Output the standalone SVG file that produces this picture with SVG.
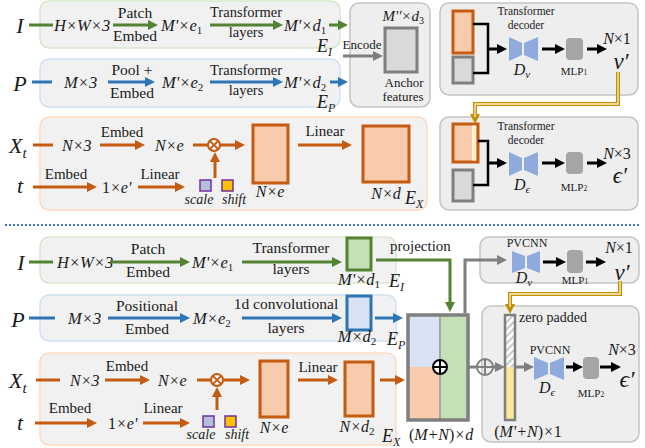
<svg xmlns="http://www.w3.org/2000/svg" width="645" height="448" viewBox="0 0 645 448">
<defs>
<style>
.t{font-family:"Liberation Serif","Times New Roman",serif;fill:#1a1a1a}
.i{font-style:italic}
.gk{font-family:"Liberation Serif","DejaVu Serif",serif}
.pnl{fill:#f1f1f1;stroke-width:1.5}
.pg{stroke:#d6e8cb}.pb{stroke:#cfe2f3}.po{stroke:#fbdac4}.pk{fill:#eeeeee;stroke:#c4c4c4}
.ag{stroke:#548235;stroke-width:3;fill:none;marker-end:url(#mg)}
.ab{stroke:#2e75b6;stroke-width:3;fill:none;marker-end:url(#mb)}
.ao{stroke:#c55a11;stroke-width:3;fill:none;marker-end:url(#mo)}
.ak{stroke:#000;stroke-width:3;fill:none;marker-end:url(#mk)}
.ay{stroke:#7f7f7f;stroke-width:3;fill:none;marker-end:url(#my)}
.lg{stroke:#548235;stroke-width:3;fill:none}
.lb{stroke:#2e75b6;stroke-width:3;fill:none}
.lo{stroke:#c55a11;stroke-width:3;fill:none}
.ly{stroke:#7f7f7f;stroke-width:3;fill:none}
.ob{fill:#f8cbad;stroke:#c55a11;stroke-width:3}
.gb{fill:#d9d9d9;stroke:#7f7f7f;stroke-width:3}
.dec{fill:#8faadc}
.mlp{fill:#a5a5a5}
.sc{fill:#b4bfdc;stroke:#7030a0;stroke-width:1.5}
.sh{fill:#ffc000;stroke:#7030a0;stroke-width:1.5}
.gold{stroke:#bf9000;stroke-width:4;fill:none}
.goldi{stroke:#fff2cc;stroke-width:1.3;fill:none}
</style>
<marker id="mg" viewBox="0 0 10 10" refX="4" refY="5" markerWidth="10" markerHeight="10" markerUnits="userSpaceOnUse" orient="auto"><path d="M0,0L10,5L0,10z" fill="#548235"/></marker>
<marker id="mb" viewBox="0 0 10 10" refX="4" refY="5" markerWidth="10" markerHeight="10" markerUnits="userSpaceOnUse" orient="auto"><path d="M0,0L10,5L0,10z" fill="#2e75b6"/></marker>
<marker id="mo" viewBox="0 0 10 10" refX="4" refY="5" markerWidth="10" markerHeight="10" markerUnits="userSpaceOnUse" orient="auto"><path d="M0,0L10,5L0,10z" fill="#c55a11"/></marker>
<marker id="mk" viewBox="0 0 10 10" refX="4" refY="5" markerWidth="10" markerHeight="10" markerUnits="userSpaceOnUse" orient="auto"><path d="M0,0L10,5L0,10z" fill="#000"/></marker>
<marker id="my" viewBox="0 0 10 10" refX="4" refY="5" markerWidth="10" markerHeight="10" markerUnits="userSpaceOnUse" orient="auto"><path d="M0,0L10,5L0,10z" fill="#7f7f7f"/></marker>
<marker id="mgold" viewBox="0 0 10 10" refX="4" refY="5" markerWidth="10" markerHeight="10" markerUnits="userSpaceOnUse" orient="auto"><path d="M0,0L10,5L0,10z" fill="#bf9000"/></marker>
<pattern id="hatch" width="5" height="5" patternUnits="userSpaceOnUse" patternTransform="rotate(45)"><rect width="5" height="5" fill="#ffffff"/><rect width="2" height="5" fill="#c8c8c8"/></pattern>
</defs>
<rect width="645" height="448" fill="#ffffff"/>

<!-- ===== TOP SECTION ===== -->
<g id="panel-EI-top">
<rect class="pnl pg" x="40" y="1" width="300" height="47" rx="9"/>
<text class="t i" x="20" y="33" font-size="22" text-anchor="middle">I</text>
<text class="t i" x="54" y="31" font-size="16.5">H×W×3</text>
<text class="t" x="135" y="18" font-size="15.5" text-anchor="middle">Patch</text>
<text class="t" x="135" y="41" font-size="15.5" text-anchor="middle">Embed</text>
<text class="t i" x="161" y="31" font-size="16.5">M'×e<tspan font-size="11" dy="3" font-style="normal">1</tspan></text>
<text class="t" x="246" y="17" font-size="14.5" text-anchor="middle">Transformer</text>
<text class="t" x="246" y="37" font-size="14.5" text-anchor="middle">layers</text>
<text class="t i" x="284" y="31" font-size="16.5">M'×d<tspan font-size="11" dy="3" font-style="normal">1</tspan></text>
<text class="t i" x="317" y="52" font-size="18">E<tspan font-size="12" dy="4">I</tspan></text>
</g>
<g id="panel-EP-top">
<rect class="pnl pb" x="40" y="59" width="300" height="48" rx="9"/>
<text class="t i" x="20" y="91" font-size="22" text-anchor="middle">P</text>
<text class="t i" x="64" y="88" font-size="16.5">M×3</text>
<text class="t" x="132" y="75" font-size="15.5" text-anchor="middle">Pool +</text>
<text class="t" x="132" y="98" font-size="15.5" text-anchor="middle">Embed</text>
<text class="t i" x="162" y="88" font-size="16.5">M'×e<tspan font-size="11" dy="3" font-style="normal">2</tspan></text>
<text class="t" x="246" y="75" font-size="14.5" text-anchor="middle">Transformer</text>
<text class="t" x="246" y="95" font-size="14.5" text-anchor="middle">layers</text>
<text class="t i" x="284" y="88" font-size="16.5">M'×d<tspan font-size="11" dy="3" font-style="normal">2</tspan></text>
<text class="t i" x="317" y="108" font-size="18">E<tspan font-size="12" dy="4">P</tspan></text>
</g>
<g id="anchor-top">
<rect class="pnl pk" x="350" y="3" width="80" height="104" rx="9"/>
<text class="t i" x="424" y="21" font-size="15" text-anchor="end">M''×d<tspan font-size="10" dy="3" font-style="normal">3</tspan></text>
<rect class="gb" x="385" y="28" width="32" height="44"/>
<text class="t" x="362" y="49" font-size="13" text-anchor="middle">Encode</text>
<text class="t" x="404" y="87" font-size="13" text-anchor="middle">Anchor</text>
<text class="t" x="403" y="101" font-size="13" text-anchor="middle">features</text>
</g>
<g id="panel-EX-top">
<rect class="pnl po" x="40" y="117" width="387" height="93" rx="9"/>
<text class="t i" x="9" y="153" font-size="22">X<tspan font-size="15" dy="5">t</tspan></text>
<text class="t i" x="62" y="151" font-size="16">N×3</text>
<text class="t" x="122" y="137" font-size="15" text-anchor="middle">Embed</text>
<text class="t i" x="155" y="151" font-size="16">N×e</text>
<text class="t i" x="20" y="193" font-size="22" text-anchor="middle">t</text>
<text class="t" x="66" y="179" font-size="15" text-anchor="middle">Embed</text>
<text class="t i" x="102" y="193" font-size="16"><tspan font-style="normal">1</tspan>×e'</text>
<text class="t" x="160" y="179" font-size="15" text-anchor="middle">Linear</text>
<rect class="sc" x="200" y="180" width="11" height="11"/>
<text class="t i" x="199" y="204" font-size="14" text-anchor="middle">scale</text>
<rect class="sh" x="222" y="180" width="11" height="11"/>
<text class="t i" x="234" y="204" font-size="14" text-anchor="middle">shift</text>
<rect class="ob" x="253" y="125" width="35" height="58"/>
<text class="t i" x="270" y="197" font-size="16" text-anchor="middle">N×e</text>
<text class="t" x="325" y="136" font-size="15" text-anchor="middle">Linear</text>
<rect class="ob" x="363" y="126" width="46" height="56"/>
<text class="t i" x="386" y="199" font-size="16" text-anchor="middle">N×d</text>
<text class="t i" x="405" y="204" font-size="18">E<tspan font-size="12" dy="4">X</tspan></text>
<circle cx="214" cy="145" r="6" fill="none" stroke="#c55a11" stroke-width="2"/>
<path d="M209.8 140.8L218.2 149.2M218.2 140.8L209.8 149.2" stroke="#c55a11" stroke-width="1.8"/>
</g>
<g id="decoder-v-top">
<rect class="pnl pk" x="440" y="3" width="198" height="92" rx="9"/>
<rect class="ob" x="453" y="11" width="20" height="42"/>
<rect class="gb" x="453" y="57" width="20" height="26"/>
<text class="t" x="526" y="15" font-size="11.5" text-anchor="middle">Transformer</text>
<text class="t" x="526" y="28.5" font-size="11.5" text-anchor="middle">decoder</text>
<polygon class="dec" points="509,37 522,43 522,55 509,61"/>
<polygon class="dec" points="524,43 538,37 538,61 524,55"/>
<text class="t i" x="522" y="75" font-size="16" text-anchor="middle">D<tspan font-size="11" dy="3">ν</tspan></text>
<rect class="mlp" x="566" y="38" width="17" height="22" rx="4"/>
<text class="t" x="574" y="75" font-size="11" text-anchor="middle">MLP<tspan font-size="7.5">1</tspan></text>
<text class="t i" x="617" y="44" font-size="16" text-anchor="middle">N<tspan font-style="normal">×1</tspan></text>
<text class="t i" x="621" y="69" font-size="23" text-anchor="middle">ν′</text>
</g>
<g id="decoder-e-top">
<rect class="pnl pk" x="440" y="117" width="198" height="93" rx="9"/>
<rect class="ob" x="453" y="124" width="25" height="38"/>
<rect x="472" y="125.5" width="4" height="35" fill="#fff2cc"/>
<rect class="gb" x="453" y="170" width="20" height="31"/>
<text class="t" x="526" y="130" font-size="11.5" text-anchor="middle">Transformer</text>
<text class="t" x="526" y="143.5" font-size="11.5" text-anchor="middle">decoder</text>
<polygon class="dec" points="509,152 522,158 522,170 509,176"/>
<polygon class="dec" points="524,158 538,152 538,176 524,170"/>
<text class="t gk i" x="522" y="190" font-size="16" text-anchor="middle">D<tspan font-size="11" dy="3">ϵ</tspan></text>
<rect class="mlp" x="566" y="152" width="17" height="22" rx="4"/>
<text class="t" x="574" y="191" font-size="11" text-anchor="middle">MLP<tspan font-size="7.5">2</tspan></text>
<text class="t i" x="617" y="159" font-size="16" text-anchor="middle">N<tspan font-style="normal">×3</tspan></text>
<text class="t gk i" x="620" y="183" font-size="23" text-anchor="middle">ϵ′</text>
</g>

<!-- divider -->
<line x1="5" y1="225" x2="640" y2="225" stroke="#4472c4" stroke-width="2" stroke-dasharray="2,2"/>

<!-- ===== BOTTOM SECTION ===== -->
<g id="panel-EI-bot">
<rect class="pnl pg" x="40" y="237" width="356" height="46" rx="9"/>
<text class="t i" x="21" y="270" font-size="22" text-anchor="middle">I</text>
<text class="t i" x="57" y="268" font-size="16.5">H×W×3</text>
<text class="t" x="148" y="254" font-size="15.5" text-anchor="middle">Patch</text>
<text class="t" x="148" y="277" font-size="15.5" text-anchor="middle">Embed</text>
<text class="t i" x="192" y="268" font-size="16.5">M'×e<tspan font-size="11" dy="3" font-style="normal">1</tspan></text>
<text class="t" x="291" y="253" font-size="15.5" text-anchor="middle">Transformer</text>
<text class="t" x="291" y="274" font-size="15.5" text-anchor="middle">layers</text>
<rect x="347" y="238" width="24" height="32" fill="#c5e0b4" stroke="#548235" stroke-width="3"/>
<text class="t i" x="359" y="285" font-size="16.5" text-anchor="middle">M'×d<tspan font-size="11" dy="3" font-style="normal">1</tspan></text>
<text class="t i" x="389" y="287" font-size="18">E<tspan font-size="12" dy="4">I</tspan></text>
<text class="t" x="390" y="251" font-size="15">projection</text>
</g>
<g id="panel-EP-bot">
<rect class="pnl pb" x="40" y="295" width="356" height="46" rx="9"/>
<text class="t i" x="18" y="327" font-size="22" text-anchor="middle">P</text>
<text class="t i" x="68" y="324" font-size="16.5">M×3</text>
<text class="t" x="147" y="311" font-size="15.5" text-anchor="middle">Positional</text>
<text class="t" x="147" y="334" font-size="15.5" text-anchor="middle">Embed</text>
<text class="t i" x="193" y="324" font-size="16.5">M×e<tspan font-size="11" dy="3" font-style="normal">2</tspan></text>
<text class="t" x="286" y="309" font-size="15.5" text-anchor="middle">1d convolutional</text>
<text class="t" x="286" y="333" font-size="15.5" text-anchor="middle">layers</text>
<rect x="347" y="296" width="24" height="34" fill="#dae3f3" stroke="#2e75b6" stroke-width="3"/>
<text class="t i" x="357" y="342" font-size="16.5" text-anchor="middle">M×d<tspan font-size="11" dy="3" font-style="normal">2</tspan></text>
<text class="t i" x="387" y="345" font-size="18">E<tspan font-size="12" dy="4">P</tspan></text>
</g>
<g id="panel-EX-bot">
<rect class="pnl po" x="40" y="353" width="356" height="92" rx="9"/>
<text class="t i" x="9" y="388" font-size="22">X<tspan font-size="15" dy="5">t</tspan></text>
<text class="t i" x="70" y="386" font-size="16">N×3</text>
<text class="t" x="127" y="371" font-size="15" text-anchor="middle">Embed</text>
<text class="t i" x="158" y="386" font-size="16">N×e</text>
<text class="t i" x="20" y="430" font-size="22" text-anchor="middle">t</text>
<text class="t" x="70" y="413" font-size="15" text-anchor="middle">Embed</text>
<text class="t i" x="108" y="429" font-size="16"><tspan font-style="normal">1</tspan>×e'</text>
<text class="t" x="163" y="413" font-size="15" text-anchor="middle">Linear</text>
<rect class="sc" x="203" y="416" width="11" height="11"/>
<text class="t i" x="201" y="439" font-size="14" text-anchor="middle">scale</text>
<rect class="sh" x="225" y="416" width="11" height="11"/>
<text class="t i" x="237" y="439" font-size="14" text-anchor="middle">shift</text>
<rect class="ob" x="260" y="361" width="28" height="56"/>
<text class="t i" x="274" y="433" font-size="16" text-anchor="middle">N×e</text>
<text class="t" x="318" y="372" font-size="15" text-anchor="middle">Linear</text>
<rect class="ob" x="345" y="362" width="28" height="54"/>
<text class="t i" x="357" y="432" font-size="16" text-anchor="middle">N×d<tspan font-size="11" dy="3" font-style="normal">2</tspan></text>
<text class="t i" x="382" y="442" font-size="18">E<tspan font-size="12" dy="4">X</tspan></text>
<circle cx="217" cy="380" r="6" fill="none" stroke="#c55a11" stroke-width="2"/>
<path d="M212.8 375.8L221.2 384.2M221.2 375.8L212.8 384.2" stroke="#c55a11" stroke-width="1.8"/>
</g>
<g id="concat">
<rect x="408" y="315" width="32" height="52" fill="#dae3f3"/>
<rect x="408" y="367" width="32" height="53" fill="#f8cbad"/>
<rect x="440" y="315" width="28" height="105" fill="#c5e0b4"/>
<line x1="440" y1="315" x2="440" y2="420" stroke="#a6a6a6" stroke-width="2"/>
<rect x="408" y="315" width="60" height="105" fill="none" stroke="#7f7f7f" stroke-width="3.5"/>
<circle cx="440" cy="367" r="7" fill="#ffffff" stroke="#000" stroke-width="2"/>
<path d="M433 367H447M440 360V374" stroke="#000" stroke-width="2"/>
<text class="t i" x="441" y="440" font-size="16" text-anchor="middle"><tspan font-style="normal">(</tspan>M+N<tspan font-style="normal">)</tspan>×d</text>
</g>
<g id="decoder-v-bot">
<rect class="pnl pk" x="480" y="237" width="159" height="46" rx="9"/>
<text class="t" x="527" y="247" font-size="12" text-anchor="middle">PVCNN</text>
<polygon class="dec" points="512,251 525,256 525,268 512,273"/>
<polygon class="dec" points="527,256 540,251 540,273 527,268"/>
<text class="t i" x="524" y="283" font-size="16" text-anchor="middle">D<tspan font-size="11" dy="3">ν</tspan></text>
<rect class="mlp" x="567" y="250" width="16" height="23" rx="4"/>
<text class="t" x="575" y="284" font-size="11" text-anchor="middle">MLP<tspan font-size="7.5">1</tspan></text>
<text class="t i" x="619" y="253" font-size="16" text-anchor="middle">N<tspan font-style="normal">×1</tspan></text>
<text class="t i" x="622" y="280" font-size="23" text-anchor="middle">ν′</text>
</g>
<g id="decoder-e-bot">
<rect class="pnl pk" x="482" y="306" width="157" height="136" rx="9"/>
<rect x="505" y="315" width="10" height="52" fill="url(#hatch)"/>
<rect x="505" y="367" width="10" height="53" fill="#ffe699"/>
<rect x="505" y="315" width="10" height="105" fill="none" stroke="#7f7f7f" stroke-width="2.5"/>
<text class="t" x="519" y="322" font-size="14">zero padded</text>
<circle cx="485" cy="367" r="8" fill="none" stroke="#808080" stroke-width="2"/>
<path d="M477 367H493M485 359V375" stroke="#808080" stroke-width="2"/>
<text class="t" x="550" y="354" font-size="12" text-anchor="middle">PVCNN</text>
<polygon class="dec" points="534,357 548,363 548,374 534,380"/>
<polygon class="dec" points="550,363 564,357 564,380 550,374"/>
<text class="t gk i" x="547" y="393" font-size="16" text-anchor="middle">D<tspan font-size="11" dy="3">ϵ</tspan></text>
<rect class="mlp" x="583" y="357" width="16" height="22" rx="4"/>
<text class="t" x="591" y="397" font-size="11" text-anchor="middle">MLP<tspan font-size="7.5">2</tspan></text>
<text class="t i" x="622" y="355" font-size="16" text-anchor="middle">N<tspan font-style="normal">×3</tspan></text>
<text class="t gk i" x="627" y="387" font-size="24" text-anchor="middle">ϵ′</text>
<text class="t i" x="528" y="437" font-size="16" text-anchor="middle"><tspan font-style="normal">(</tspan>M'+N<tspan font-style="normal">)</tspan>×<tspan font-style="normal">1</tspan></text>
</g>

<!-- ===== CONNECTORS ===== -->
<g id="connectors">
<path class="lg" d="M29 25H53"/>
<path class="ag" d="M113 25H152"/>
<path class="ag" d="M210 25H277"/>
<path class="ag" d="M329 25H342"/>
<path class="lb" d="M32 82H52"/>
<path class="ab" d="M108 82H149"/>
<path class="ab" d="M210 82H277"/>
<path class="ab" d="M330 82H342"/>
<path class="ay" d="M343 56H377"/>
<path class="lo" d="M33 145H53"/>
<path class="ao" d="M100 145H139"/>
<path class="lo" d="M193 145H208"/>
<path class="ao" d="M220 145H239"/>
<path class="ao" d="M215 178V158"/>
<path class="ao" d="M33 187H91"/>
<path class="ao" d="M138 187H179"/>
<path class="ao" d="M298 145H346"/>
<path d="M473 24H488V73H473" stroke="#000" stroke-width="2.5" fill="none"/>
<path class="ak" d="M488 49H501"/>
<path class="ak" d="M542 49H559"/>
<path class="ak" d="M587 49H601"/>
<path d="M478 141H488V185H473" stroke="#000" stroke-width="2.5" fill="none"/>
<path class="ak" d="M488 163H501"/>
<path class="ak" d="M542 163H559"/>
<path class="ak" d="M587 163H601"/>
<path class="gold" d="M618 72V104H475V118" marker-end="url(#mgold)"/>
<path class="goldi" d="M618 72V104H475V117"/>
<path class="lg" d="M29 262H53"/>
<path class="ag" d="M110 262H184"/>
<path class="ag" d="M242 262H336"/>
<path class="ag" d="M376 260H450V306"/>
<path class="lb" d="M29 318H55"/>
<path class="ab" d="M108 318H184"/>
<path class="ab" d="M242 318H336"/>
<path class="ab" d="M375 318H397"/>
<path class="lo" d="M36 380H60"/>
<path class="ao" d="M105 380H144"/>
<path class="lo" d="M197 380H211"/>
<path class="ao" d="M223 380H244"/>
<path class="ao" d="M217 410V393"/>
<path class="ao" d="M35 423H91"/>
<path class="ao" d="M143 423H184"/>
<path class="ao" d="M298 380H332"/>
<path class="ao" d="M380 380H399"/>
<path class="ay" d="M465 313V260H501"/>
<path class="ly" d="M468 367H477"/>
<path class="ay" d="M493 367H499"/>
<path class="ay" d="M515 367H528"/>
<path class="ak" d="M543 262H560"/>
<path class="ak" d="M586 262H600"/>
<path class="ak" d="M566 367H577"/>
<path class="ak" d="M600 367H615"/>
<path class="gold" d="M620 281V294H510V308" marker-end="url(#mgold)"/>
<path class="goldi" d="M620 281V294H510V307"/>
</g>
</svg>
